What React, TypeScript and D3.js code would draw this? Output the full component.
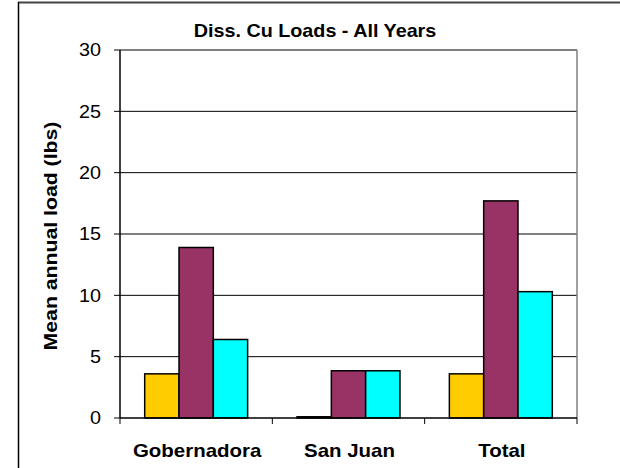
import React from "react";
import * as d3 from "d3";

const categories = ["Gobernadora", "San Juan", "Total"];
const seriesA = [3.6, 0.1, 3.6];
const seriesB = [13.9, 3.85, 17.7];
const seriesC = [6.4, 3.85, 10.3];
const yTicks = [0, 5, 10, 15, 20, 25, 30];
const colors = ["#FFCC00", "#993366", "#00FFFF"];
const title = "Diss. Cu Loads - All Years";
const yTitle = "Mean annual load (lbs)";

export default function App() {
  const W = 620, H = 468;
  const left = 120, right = 577, top = 50, bottom = 418;
  const series = [seriesA, seriesB, seriesC];
  const x = d3.scaleBand<string>().domain(categories).range([left, right]).paddingInner(0).paddingOuter(0);
  const inner = d3.scaleBand<number>().domain([0, 1, 2]).range([0, x.bandwidth()]).paddingInner(0).paddingOuter(0.72);
  const y = d3.scaleLinear().domain([0, 30]).range([bottom, top]);
  const font = "Arial, 'Liberation Sans', sans-serif";
  return (
    <svg width={W} height={H} style={{ position: "absolute", left: 0, top: 0 }}>
      <rect x={0} y={0} width={W} height={H} fill="#fff" />
      <line x1={18} y1={2.5} x2={W} y2={2.5} stroke="#444" strokeWidth={2} />
      <line x1={18.5} y1={2} x2={18.5} y2={H} stroke="#000" strokeWidth={1.5} />
      {yTicks.filter(t => t > 0).map(t => (
        <line key={t} x1={left} x2={right} y1={y(t)} y2={y(t)} stroke="#000" strokeWidth={1} />
      ))}
      <line x1={right} x2={right} y1={top} y2={bottom} stroke="#808080" strokeWidth={1.5} />
      {categories.map((c, i) => series.map((s, j) => {
        const x0 = (x(c) as number) + (inner(j) as number);
        return (
          <rect key={c + j} x={x0} y={y(s[i])} width={inner.bandwidth()} height={bottom - y(s[i])}
            fill={colors[j]} stroke="#000" strokeWidth={1.5} />
        );
      }))}
      <line x1={left} x2={left} y1={top} y2={bottom} stroke="#000" strokeWidth={1.5} />
      <line x1={left} x2={right} y1={bottom} y2={bottom} stroke="#000" strokeWidth={1.5} />
      {yTicks.map(t => (
        <g key={t}>
          <line x1={left - 6} x2={left} y1={y(t)} y2={y(t)} stroke="#000" strokeWidth={1} />
          <text transform={`translate(101,${y(t)}) scale(1.1,1)`} dy="0.36em" textAnchor="end"
            fontFamily={font} fontSize={18}>{t}</text>
        </g>
      ))}
      {[...categories.map(c => x(c) as number), right].map((v, i) => (
        <line key={i} x1={v} x2={v} y1={bottom} y2={bottom + 6} stroke="#000" strokeWidth={1} />
      ))}
      {categories.map(c => (
        <text key={c} transform={`translate(${(x(c) as number) + x.bandwidth() / 2 + 1},457) scale(1.17,1)`}
          textAnchor="middle" fontFamily={font} fontSize={17.5} fontWeight="bold">{c}</text>
      ))}
      <text transform="translate(315,36.5) scale(1.04,1)" textAnchor="middle" fontFamily={font}
        fontSize={19} fontWeight="bold">{title}</text>
      <text transform={`translate(57,${(top + bottom) / 2 + 2}) rotate(-90) scale(1.18,1)`} textAnchor="middle"
        fontFamily={font} fontSize={18} fontWeight="bold">{yTitle}</text>
    </svg>
  );
}
